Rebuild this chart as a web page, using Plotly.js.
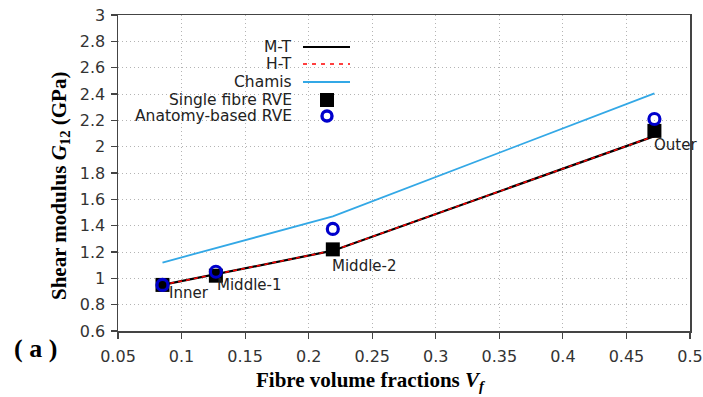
<!DOCTYPE html>
<html>
<head>
<meta charset="utf-8">
<script src="https://cdn.plot.ly/plotly-3.0.1.min.js"></script>
<style>html,body{margin:0;padding:0;background:#fff}#chart{width:703px;height:397px}</style>
</head>
<body>
<div id="chart"></div>
<script>
// Data
const regions = ["Inner", "Middle-1", "Middle-2", "Outer"];
const vf = [0.085, 0.127, 0.219, 0.472];
const mtModel = [0.95, 1.03, 1.21, 2.08];
const htModel = [0.95, 1.03, 1.21, 2.08];
const chamisModel = [1.12, 1.23, 1.47, 2.405];
const singleFibreRVE = [0.95, 1.02, 1.22, 2.12];
const anatomyRVE = [0.95, 1.05, 1.375, 2.21];
const legendNames = ["M-T", "H-T", "Chamis", "Single fibre RVE", "Anatomy-based RVE"];
const xTitle = "<b>Fibre volume fractions <i>V<sub>f</sub></i></b>";
const yTitle = "<b>Shear modulus <i>G</i><sub>12</sub> (GPa)</b>";
const panelLabel = "<b>( a )</b>";

const font = "DejaVu Sans, sans-serif";
const serif = "Liberation Serif, serif";
const traces = [
  {x: vf, y: mtModel, mode: "lines", line: {color: "#000", width: 2.2}, name: legendNames[0]},
  {x: vf, y: htModel, mode: "lines", line: {color: "#ff0000", width: 1.5, dash: "4px,4px"}, name: legendNames[1]},
  {x: vf, y: chamisModel, mode: "lines", line: {color: "#33a8e6", width: 1.8}, name: legendNames[2]},
  {x: vf, y: singleFibreRVE, mode: "markers", marker: {symbol: "square", size: 14, color: "#000"}, name: legendNames[3]},
  {x: vf, y: anatomyRVE, mode: "markers", marker: {symbol: "circle-open", size: 11, color: "#0000cc", line: {width: 3.2, color: "#0000cc"}}, name: legendNames[4]}
];

const labelShift = [[5, -8], [-1, -9], [-3, -17], [-2, -14]];
const annotations = regions.map((r, i) => ({
  x: vf[i], y: singleFibreRVE[i], xref: "x", yref: "y", text: r, showarrow: false,
  xanchor: "left", yanchor: "middle", xshift: labelShift[i][0], yshift: labelShift[i][1],
  font: {family: font, size: 15, color: "#222"}
}));

// custom legend (text right, symbol right), in plot-area paper coordinates
const W = 703, H = 397, M = {l: 118, r: 13, t: 15, b: 66};
const PW = W - M.l - M.r, PH = H - M.t - M.b;
const px = v => (v - M.l) / PW, py = v => (H - M.b - v) / PH;
const L = {textX: 294, lineX0: 303, lineX1: 350, symX: 327, rows: [47, 64, 82, 100, 116]};
legendNames.forEach((n, i) => {
  annotations.push({xref: "paper", yref: "paper", x: px(L.textX), y: py(L.rows[i]), text: n,
    showarrow: false, xanchor: "right", yanchor: "middle",
    font: {family: font, size: 15.5, color: "#222"}});
});
const shapes = [
  {type: "line", xref: "paper", yref: "paper", x0: px(L.lineX0), x1: px(L.lineX1), y0: py(L.rows[0]), y1: py(L.rows[0]), line: {color: "#000", width: 2}},
  {type: "line", xref: "paper", yref: "paper", x0: px(L.lineX0), x1: px(L.lineX1), y0: py(L.rows[1]), y1: py(L.rows[1]), line: {color: "#ff0000", width: 1.5, dash: "4px,5px"}},
  {type: "line", xref: "paper", yref: "paper", x0: px(L.lineX0), x1: px(L.lineX1), y0: py(L.rows[2]), y1: py(L.rows[2]), line: {color: "#33a8e6", width: 1.8}},
  {type: "rect", xref: "paper", yref: "paper", x0: px(L.symX - 7), x1: px(L.symX + 7), y0: py(L.rows[3] - 7), y1: py(L.rows[3] + 7), fillcolor: "#000", line: {width: 0}},
  {type: "circle", xref: "paper", yref: "paper", x0: px(L.symX - 5), x1: px(L.symX + 5), y0: py(L.rows[4] - 5), y1: py(L.rows[4] + 5), line: {color: "#0000cc", width: 3.4}}
];

// axis titles and panel label
annotations.push({xref: "paper", yref: "paper", x: px(371), y: py(381), text: xTitle, showarrow: false,
  xanchor: "center", yanchor: "middle", font: {family: serif, size: 21, color: "#000"}});
annotations.push({xref: "paper", yref: "paper", x: px(60), y: py(186), text: yTitle, showarrow: false, textangle: -90,
  xanchor: "center", yanchor: "middle", font: {family: serif, size: 21, color: "#000"}});
annotations.push({xref: "paper", yref: "paper", x: px(35), y: py(348), text: panelLabel, showarrow: false,
  xanchor: "center", yanchor: "middle", font: {family: serif, size: 26, color: "#000"}});

const axisCommon = {
  showline: true, mirror: true, linecolor: "#444", linewidth: 1.5,
  ticks: "outside", ticklen: 6, tickcolor: "#444", tickwidth: 1.2,
  showgrid: true, gridcolor: "#b4b4b4", griddash: "1px,3px", gridwidth: 1,
  zeroline: false, tickfont: {family: font, size: 16, color: "#333"}
};

const layout = {
  width: W, height: H, margin: M,
  paper_bgcolor: "#fff", plot_bgcolor: "#fff", showlegend: false,
  xaxis: Object.assign({}, axisCommon, {range: [0.05, 0.5], dtick: 0.05, tick0: 0.05, ticklabelstandoff: 4}),
  yaxis: Object.assign({}, axisCommon, {range: [0.6, 3], dtick: 0.2, tick0: 0.6, ticklabelstandoff: 2}),
  annotations: annotations, shapes: shapes
};

Plotly.newPlot("chart", traces, layout, {displayModeBar: false, staticPlot: true});
</script>
</body>
</html>
